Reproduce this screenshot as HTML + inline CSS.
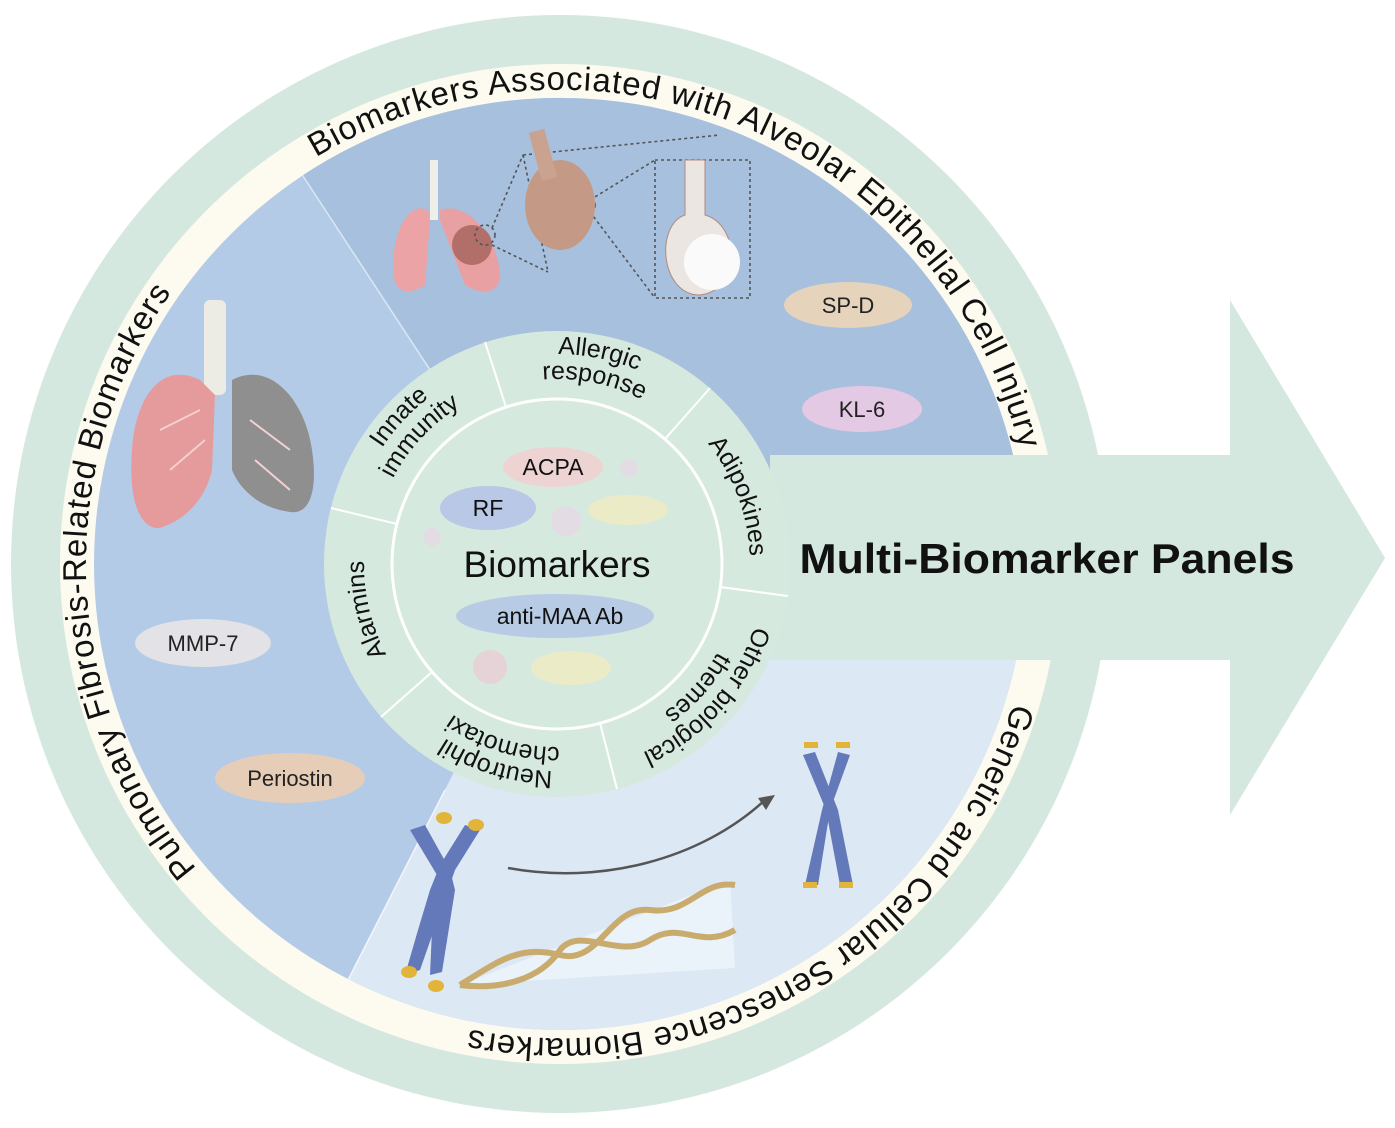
<!DOCTYPE html>
<html><head><meta charset="utf-8"><style>
html,body{margin:0;padding:0;background:#fff;}
svg{display:block;font-family:"Liberation Sans",Arial,sans-serif;}
</style></head><body>
<svg width="1395" height="1128" viewBox="0 0 1395 1128" xmlns="http://www.w3.org/2000/svg">
<defs>
<path id="outer" d="M1034,564 A474,474 0 1 1 86,564 A474,474 0 1 1 1034,564"/>
<path id="r1" d="M767,564 A210,210 0 1 1 347,564 A210,210 0 1 1 767,564"/>
<path id="r2" d="M742,564 A185,185 0 1 1 372,564 A185,185 0 1 1 742,564"/>
<path id="r3" d="M750,564 A193,193 0 1 1 364,564 A193,193 0 1 1 750,564"/>
<path id="r4" d="M764,564 A207,207 0 1 1 350,564 A207,207 0 1 1 764,564"/>
<path id="r5" d="M740,564 A183,183 0 1 1 374,564 A183,183 0 1 1 740,564"/>
</defs>
<circle cx="560" cy="564" r="549" fill="#d5e8df"/>
<circle cx="560" cy="564" r="500" fill="#fdfbf0"/>
<circle cx="560" cy="564" r="466" fill="#b4cbe7"/>
<path d="M560,564 L302.6,175.4 A466,466 0 0 1 1026,564 Z" fill="#a6c0de"/>
<path d="M560,564 L1026,564 A466,466 0 0 1 348.4,979.2 Z" fill="#dde8f5"/>
<line x1="302.6" y1="175.4" x2="430" y2="370" stroke="#dbe6f2" stroke-width="1.5"/>
<line x1="348.4" y1="979.2" x2="445" y2="790" stroke="#f2f6fb" stroke-width="1.5"/>

<g font-size="33" fill="#111">
<text><textPath href="#outer" startOffset="81.25%" text-anchor="middle" textLength="885" lengthAdjust="spacing">Biomarkers Associated with Alveolar Epithelial Cell Injury</textPath></text>
<text><textPath href="#outer" startOffset="49.3%" text-anchor="middle" textLength="620" lengthAdjust="spacing">Pulmonary Fibrosis-Related Biomarkers</textPath></text>
<text><textPath href="#outer" startOffset="16.4%" text-anchor="middle" textLength="695" lengthAdjust="spacing">Genetic and Cellular Senescence Biomarkers</textPath></text>
</g>

<path d="M770,455 L1230,455 L1230,300 L1385,558 L1230,815 L1230,660 L770,660 Z" fill="#d5e8df"/>
<text x="1047" y="573" font-size="42" font-weight="bold" text-anchor="middle" fill="#111" textLength="495" lengthAdjust="spacingAndGlyphs">Multi-Biomarker Panels</text>

<g font-size="22" fill="#222" text-anchor="middle">
<ellipse cx="848" cy="305" rx="64" ry="23" fill="#e6d3bb"/><text x="848" y="313">SP-D</text>
<ellipse cx="862" cy="409" rx="60" ry="23" fill="#e3c9e3"/><text x="862" y="417">KL-6</text>
<ellipse cx="203" cy="643" rx="68" ry="24" fill="#e2e2e7"/><text x="203" y="651">MMP-7</text>
<ellipse cx="290" cy="778" rx="75" ry="25" fill="#e6cdb7"/><text x="290" y="786">Periostin</text>
</g>

<g>
<rect x="204" y="300" width="22" height="95" rx="6" fill="#ecebe4"/>
<path d="M200,380 C160,360 135,400 132,450 C128,500 140,530 160,528 C185,520 205,500 212,470 L215,395 Z" fill="#e59a9c"/>
<path d="M232,380 C270,360 305,400 312,450 C318,490 310,515 290,512 C260,508 240,490 232,470 Z" fill="#8f8f8f"/>
<path d="M160,430 L200,410 M170,470 L205,440 M250,420 L290,450 M255,460 L290,490" stroke="#f4d0d0" stroke-width="2" fill="none"/>
</g>
<g>
<rect x="430" y="160" width="8" height="60" fill="#eeeeea"/>
<path d="M428,210 C405,200 392,240 393,270 C394,295 410,295 425,285 L430,220 Z" fill="#eba3a6"/>
<path d="M440,210 C470,200 498,240 500,275 C500,295 480,295 465,285 L440,220 Z" fill="#e8a0a3"/>
<circle cx="472" cy="245" r="20" fill="#b26f6a"/>
<g stroke="#555" stroke-width="1.6" stroke-dasharray="3,3" fill="none">
<circle cx="485" cy="235" r="10"/>
<path d="M492,228 L523,155 M492,245 L548,272 M523,155 L548,272"/>
<path d="M523,155 L720,135"/>
<rect x="655" y="160" width="95" height="138"/>
<circle cx="585" cy="205" r="10"/>
<path d="M590,200 L655,160 M590,212 L655,298"/>
</g>
<ellipse cx="560" cy="205" rx="35" ry="45" fill="#c49a86"/>
<rect x="535" y="130" width="16" height="50" fill="#c9a38f" transform="rotate(-15 543 155)"/>
<path d="M685,160 L705,160 L705,215 C740,225 742,290 700,295 C660,295 655,225 685,215 Z" fill="#ece6e3" stroke="#b08b7f" stroke-width="1"/>
<circle cx="712" cy="262" r="28" fill="#fbfafa"/>
</g>

<path d="M460,985 L730,880 L735,968 Z" fill="#eaf2fa"/>
<g stroke="#c9ab6e" stroke-width="6" fill="none">
<path d="M460,985 C500,960 520,945 560,955 C600,965 610,905 650,910 C690,915 700,880 735,885"/>
<path d="M460,985 C500,990 540,980 560,950 C580,925 620,960 650,940 C680,920 700,950 735,930"/>
</g>
<g fill="#6379ba">
<path d="M405,975 L420,970 L455,870 L480,830 L465,825 L440,865 L430,890 L418,930 Z"/>
<path d="M430,975 L442,972 L455,890 L450,870 L425,825 L410,830 L440,880 L432,930 Z"/>
<path d="M805,885 L818,885 L830,810 L850,755 L838,752 L822,810 Z"/>
<path d="M840,885 L853,885 L838,810 L815,752 L803,755 L826,810 Z"/>
</g>
<g fill="#e3b43a">
<ellipse cx="409" cy="972" rx="8" ry="6"/><ellipse cx="436" cy="986" rx="8" ry="6"/>
<ellipse cx="444" cy="818" rx="8" ry="6"/><ellipse cx="476" cy="825" rx="8" ry="6"/>
<rect x="804" y="742" width="14" height="6"/><rect x="836" y="742" width="14" height="6"/>
<rect x="803" y="882" width="14" height="6"/><rect x="839" y="882" width="14" height="6"/>
</g>
<path d="M508,868 C600,885 700,860 765,800" stroke="#555" stroke-width="2.5" fill="none"/>
<path d="M775,795 L758,798 L766,810 Z" fill="#555"/>

<circle cx="557" cy="564" r="233" fill="#d6e9df"/>
<circle cx="557" cy="564" r="165" fill="#d6e9df" stroke="#fff" stroke-width="3"/>
<g stroke="#fff" stroke-width="2">
<line x1="506" y1="407" x2="485" y2="342"/>
<line x1="665" y1="439" x2="710" y2="388"/>
<line x1="720" y1="587" x2="788" y2="596"/>
<line x1="600" y1="723" x2="617" y2="789"/>
<line x1="432" y1="672" x2="381" y2="717"/>
<line x1="397" y1="524" x2="331" y2="508"/>
</g>
<g font-size="25" fill="#111" text-anchor="middle">
<text><textPath href="#r1" startOffset="61.94%">Innate</textPath></text>
<text><textPath href="#r2" startOffset="61.94%">immunity</textPath></text>
<text><textPath href="#r1" startOffset="78.19%">Allergic</textPath></text>
<text><textPath href="#r2" startOffset="78.19%">response</textPath></text>
<text><textPath href="#r3" startOffset="94.31%">Adipokines</textPath></text>
<text><textPath href="#r4" startOffset="11.53%">Other biological</textPath></text>
<text><textPath href="#r5" startOffset="11.53%">themes</textPath></text>
<text><textPath href="#r4" startOffset="29.72%">Neutrophil</textPath></text>
<text><textPath href="#r5" startOffset="29.72%">chemotaxi</textPath></text>
<text><textPath href="#r3" startOffset="46.25%">Alarmins</textPath></text>
</g>

<ellipse cx="553" cy="467" rx="50" ry="20" fill="#eed3d3"/>
<ellipse cx="488" cy="508" rx="48" ry="22" fill="#b9c8e6"/>
<ellipse cx="628" cy="510" rx="40" ry="15" fill="#ebebc8"/>
<ellipse cx="555" cy="616" rx="99" ry="22" fill="#b8cbe5"/>
<circle cx="490" cy="667" r="17" fill="#e6d3d8"/>
<ellipse cx="571" cy="668" rx="40" ry="17" fill="#ebebc8"/>
<circle cx="629" cy="468" r="9" fill="#e3dce5"/>
<circle cx="566" cy="521" r="15" fill="#e3dce5"/>
<circle cx="432" cy="537" r="9" fill="#e3dce5"/>
<g fill="#111" text-anchor="middle">
<text x="553" y="475" font-size="23">ACPA</text>
<text x="488" y="516" font-size="23">RF</text>
<text x="557" y="577" font-size="37">Biomarkers</text>
<text x="560" y="624" font-size="23">anti-MAA Ab</text>
</g>
</svg>
</body></html>
